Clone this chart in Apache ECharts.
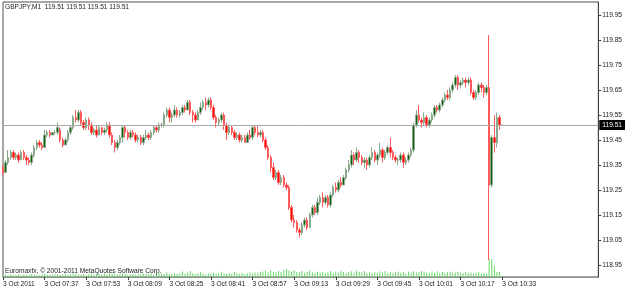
<!DOCTYPE html>
<html>
<head>
<meta charset="utf-8">
<script src="https://cdn.jsdelivr.net/npm/echarts@6/dist/echarts.min.js"></script>
<style>
  html, body { margin: 0; padding: 0; background: #fff; }
  #chart { width: 625px; height: 290px; }
</style>
</head>
<body>
<div id="chart"></div>
<script>
// GBPJPY M1, 3 Oct 2011, first bar 07:21
const startMinute = 7 * 60 + 21;
const slotCount = 230;

// [open, close, low, high] per minute bar
const candles = [
  [119.34,119.32,119.31,119.35],[119.32,119.36,119.32,119.37],[119.36,119.38,119.35,119.41],[119.38,119.40,119.37,119.41],
  [119.40,119.38,119.37,119.41],[119.38,119.39,119.37,119.40],[119.39,119.37,119.36,119.40],[119.37,119.40,119.37,119.41],
  [119.40,119.38,119.37,119.41],[119.38,119.37,119.35,119.39],[119.37,119.36,119.35,119.38],[119.36,119.39,119.35,119.40],
  [119.39,119.42,119.38,119.43],[119.42,119.44,119.41,119.45],[119.44,119.43,119.42,119.45],[119.43,119.42,119.41,119.44],
  [119.42,119.47,119.42,119.49],[119.47,119.48,119.46,119.49],[119.48,119.47,119.46,119.49],[119.47,119.48,119.47,119.48],
  [119.48,119.48,119.47,119.49],[119.48,119.50,119.47,119.52],[119.49,119.45,119.44,119.50],[119.45,119.43,119.42,119.46],
  [119.43,119.45,119.43,119.46],[119.45,119.48,119.44,119.49],[119.48,119.50,119.47,119.51],[119.50,119.54,119.49,119.55],
  [119.54,119.53,119.52,119.57],[119.53,119.56,119.52,119.57],[119.56,119.52,119.51,119.57],[119.52,119.50,119.49,119.53],
  [119.50,119.53,119.49,119.54],[119.53,119.51,119.49,119.54],[119.51,119.48,119.47,119.52],[119.48,119.49,119.47,119.50],
  [119.49,119.47,119.46,119.51],[119.47,119.50,119.47,119.51],[119.50,119.48,119.47,119.50],[119.48,119.49,119.47,119.50],
  [119.49,119.51,119.48,119.52],[119.51,119.47,119.46,119.52],[119.47,119.44,119.43,119.48],[119.44,119.42,119.40,119.45],
  [119.42,119.44,119.41,119.45],[119.44,119.46,119.43,119.47],[119.46,119.50,119.44,119.51],[119.50,119.48,119.46,119.51],
  [119.48,119.46,119.45,119.49],[119.46,119.48,119.45,119.49],[119.48,119.47,119.46,119.49],[119.47,119.45,119.44,119.48],
  [119.45,119.46,119.44,119.47],[119.46,119.44,119.43,119.47],[119.44,119.46,119.43,119.47],[119.46,119.47,119.45,119.49],
  [119.47,119.46,119.45,119.48],[119.46,119.48,119.45,119.49],[119.48,119.50,119.47,119.51],[119.50,119.49,119.48,119.51],
  [119.49,119.51,119.48,119.52],[119.51,119.51,119.50,119.52],[119.51,119.55,119.50,119.56],[119.55,119.57,119.54,119.58],
  [119.57,119.54,119.52,119.58],[119.54,119.55,119.52,119.56],[119.55,119.57,119.54,119.59],[119.57,119.55,119.54,119.58],
  [119.55,119.56,119.54,119.57],[119.56,119.58,119.55,119.59],[119.58,119.57,119.56,119.59],[119.57,119.60,119.57,119.61],
  [119.60,119.56,119.55,119.61],[119.56,119.55,119.52,119.57],[119.55,119.53,119.52,119.56],[119.53,119.56,119.53,119.57],
  [119.56,119.58,119.55,119.60],[119.58,119.60,119.57,119.61],[119.60,119.59,119.57,119.62],[119.59,119.61,119.58,119.62],
  [119.61,119.58,119.57,119.62],[119.58,119.54,119.53,119.59],[119.54,119.52,119.50,119.55],[119.52,119.53,119.51,119.54],
  [119.53,119.55,119.52,119.56],[119.55,119.51,119.49,119.56],[119.51,119.48,119.45,119.52],[119.48,119.50,119.47,119.51],
  [119.50,119.48,119.47,119.51],[119.48,119.46,119.45,119.49],[119.46,119.47,119.45,119.48],[119.47,119.45,119.44,119.48],
  [119.45,119.46,119.44,119.47],[119.46,119.44,119.44,119.47],[119.44,119.47,119.44,119.48],[119.47,119.46,119.45,119.49],
  [119.46,119.50,119.45,119.51],[119.50,119.48,119.47,119.51],[119.48,119.47,119.46,119.51],[119.47,119.48,119.46,119.49],
  [119.48,119.45,119.44,119.49],[119.45,119.42,119.41,119.46],[119.42,119.38,119.37,119.43],[119.38,119.34,119.32,119.39],
  [119.34,119.30,119.29,119.36],[119.30,119.32,119.29,119.33],[119.32,119.28,119.27,119.33],[119.28,119.30,119.27,119.31],
  [119.30,119.27,119.26,119.31],[119.27,119.26,119.25,119.28],[119.26,119.18,119.17,119.27],[119.18,119.13,119.12,119.19],
  [119.13,119.12,119.10,119.15],[119.12,119.09,119.08,119.13],[119.09,119.08,119.06,119.10],[119.08,119.11,119.07,119.12],
  [119.11,119.13,119.10,119.14],[119.13,119.10,119.09,119.14],[119.10,119.15,119.10,119.16],[119.15,119.18,119.14,119.19],
  [119.18,119.16,119.15,119.19],[119.16,119.20,119.15,119.22],[119.20,119.22,119.19,119.23],[119.22,119.20,119.18,119.24],
  [119.20,119.22,119.19,119.23],[119.22,119.19,119.18,119.23],[119.19,119.23,119.18,119.24],[119.23,119.26,119.22,119.27],
  [119.26,119.25,119.24,119.28],[119.25,119.28,119.24,119.29],[119.28,119.27,119.26,119.30],[119.27,119.30,119.27,119.31],
  [119.30,119.33,119.29,119.34],[119.33,119.35,119.32,119.37],[119.35,119.39,119.34,119.41],[119.39,119.37,119.35,119.40],
  [119.37,119.40,119.36,119.42],[119.40,119.38,119.36,119.41],[119.38,119.36,119.35,119.39],[119.36,119.37,119.34,119.38],
  [119.37,119.35,119.33,119.38],[119.35,119.38,119.34,119.39],[119.38,119.40,119.37,119.42],[119.40,119.37,119.36,119.41],
  [119.37,119.39,119.35,119.40],[119.39,119.41,119.38,119.44],[119.41,119.38,119.36,119.42],[119.38,119.40,119.37,119.41],
  [119.40,119.42,119.39,119.43],[119.42,119.40,119.38,119.46],[119.40,119.38,119.37,119.41],[119.38,119.37,119.36,119.39],
  [119.37,119.37,119.35,119.38],[119.37,119.39,119.36,119.40],[119.39,119.36,119.34,119.40],[119.36,119.37,119.35,119.38],
  [119.37,119.39,119.36,119.40],[119.39,119.41,119.38,119.42],[119.41,119.51,119.40,119.52],[119.51,119.55,119.50,119.57],
  [119.55,119.53,119.52,119.59],[119.53,119.52,119.50,119.54],[119.52,119.54,119.51,119.56],[119.54,119.51,119.50,119.55],
  [119.51,119.53,119.50,119.54],[119.53,119.55,119.52,119.56],[119.55,119.58,119.54,119.59],[119.58,119.57,119.56,119.59],
  [119.57,119.59,119.56,119.60],[119.59,119.61,119.58,119.62],[119.61,119.63,119.60,119.64],[119.63,119.62,119.61,119.65],
  [119.62,119.65,119.61,119.66],[119.65,119.67,119.64,119.68],[119.67,119.70,119.66,119.71],[119.70,119.67,119.65,119.71],
  [119.67,119.68,119.66,119.69],[119.68,119.69,119.67,119.70],[119.69,119.68,119.66,119.70],[119.68,119.69,119.67,119.70],
  [119.69,119.64,119.63,119.70],[119.64,119.62,119.61,119.65],[119.62,119.64,119.61,119.65],[119.64,119.67,119.63,119.68],
  [119.67,119.66,119.64,119.68],[119.66,119.64,119.62,119.67],[119.64,119.66,119.63,119.67],[119.66,119.27,118.97,119.87],
  [119.27,119.46,119.26,119.47],[119.46,119.44,119.40,119.55],[119.44,119.54,119.42,119.56],[119.54,119.51,119.49,119.55],
  [119.51,119.51,119.51,119.51]
];

// tick volume per bar
const volumes = [
  8,10,7,12,9,8,11,7,9,10,8,12,10,9,7,11,13,10,8,9,
  11,12,9,10,13,8,11,14,12,10,9,12,8,11,13,10,12,9,11,14,
  10,13,15,12,9,11,14,12,8,10,13,9,12,11,15,13,11,14,10,13,
  17,14,12,18,13,11,16,12,15,22,13,17,24,15,12,16,19,13,11,15,
  14,18,13,16,21,15,12,17,14,20,16,13,17,12,15,19,14,18,16,20,
  22,25,19,27,21,18,24,20,28,32,25,22,27,20,18,24,17,21,26,19,
  16,22,18,20,15,19,24,17,21,18,25,20,16,19,23,17,26,21,18,24,
  16,20,15,19,17,22,18,24,16,20,15,18,22,17,19,15,21,17,23,18,
  20,24,22,18,16,21,18,23,17,20,15,19,22,16,18,21,17,15,19,16,
  18,14,17,20,15,17,14,72,72,44,20,20,4
];

const priceTicks = ['118.95','119.05','119.15','119.25','119.35','119.45','119.55','119.65','119.75','119.85','119.95'];
const lastPrice = 119.51;

const categories = [];
for (let i = 0; i < slotCount; i++) {
  const m = startMinute + i;
  categories.push(String(Math.floor(m / 60)).padStart(2, '0') + ':' + String(m % 60).padStart(2, '0'));
}

const font = 'Liberation Sans';
const textColor = '#222';
const showTime = (idx) => idx % 16 === 0 && idx < candles.length;

const chart = echarts.init(document.getElementById('chart'), null, { renderer: 'canvas' });

chart.setOption({
  animation: false,
  backgroundColor: '#ffffff',
  grid: {
    left: 2, right: 25, top: 2, bottom: 13,
    show: true,
    borderColor: '#505050',
    borderWidth: 1
  },
  graphic: [
    {
      type: 'text', left: 5, top: 4, z: 100,
      style: { text: 'GBPJPY,M1  119.51 119.51 119.51 119.51', font: '6.6px "' + font + '"', fill: textColor }
    },
    {
      type: 'text', left: 5, top: 268, z: 100,
      style: { text: 'Euromaxfx, \u00a9 2001-2011 MetaQuotes Software Corp.', font: '6.6px "' + font + '"', fill: textColor }
    }
  ],
  xAxis: {
    type: 'category',
    data: categories,
    boundaryGap: false,
    axisLine: { show: true, lineStyle: { color: '#909090' } },
    axisTick: {
      show: true, length: 3, inside: false,
      interval: showTime,
      lineStyle: { color: '#404040' }
    },
    axisLabel: {
      interval: showTime,
      formatter: (v, idx) => idx === 0 ? '3 Oct 2011' : '3 Oct ' + v,
      align: 'left',
      margin: 4,
      fontFamily: font,
      fontSize: 6.6,
      color: textColor
    },
    splitLine: { show: false }
  },
  yAxis: [
    {
      type: 'value',
      position: 'right',
      min: 118.902,
      max: 120.002,
      scale: true,
      axisLine: { show: true, lineStyle: { color: '#404040' } },
      axisTick: {
        show: true, length: 3, inside: false,
        customValues: priceTicks.map(Number),
        lineStyle: { color: '#404040' }
      },
      axisLabel: {
        customValues: priceTicks.map(Number),
        formatter: (v) => v.toFixed(2),
        margin: 4,
        fontFamily: font,
        fontSize: 6.6,
        color: textColor
      },
      splitLine: { show: false }
    },
    {
      type: 'value',
      min: 0,
      max: 1100,
      show: false
    }
  ],
  series: [
    {
      name: 'Volume',
      type: 'bar',
      yAxisIndex: 1,
      data: volumes,
      barWidth: 1,
      itemStyle: { color: '#66d966' },
      z: 1
    },
    {
      name: 'GBPJPY',
      type: 'candlestick',
      data: candles,
      barWidth: 2,
      itemStyle: {
        color: '#0b5e0b',
        borderColor: '#8aa88a',
        color0: '#ff0000',
        borderColor0: '#ff5a5a',
        borderWidth: 1
      },
      z: 3,
      markLine: {
        silent: true,
        symbol: ['none', 'none'],
        lineStyle: { color: '#a8a8a8', type: 'solid', width: 1 },
        label: {
          show: true,
          position: 'end',
          distance: 1,
          formatter: lastPrice.toFixed(2),
          backgroundColor: '#000',
          color: '#fff',
          padding: [2, 3, 1, 3],
          fontFamily: font,
          fontSize: 6.6
        },
        data: [{ yAxis: lastPrice }]
      }
    }
  ]
});
</script>
</body>
</html>
